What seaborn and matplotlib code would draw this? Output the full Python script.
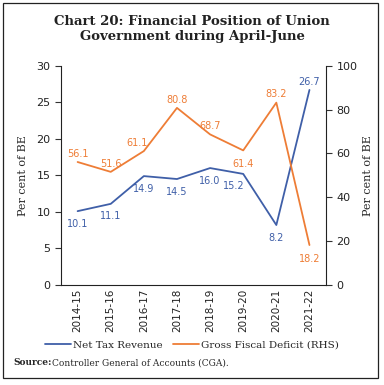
import numpy as np
import pandas as pd
import seaborn as sns
import matplotlib.pyplot as plt
from matplotlib.patches import Rectangle
from matplotlib.lines import Line2D

# data
years = ["2014-15", "2015-16", "2016-17", "2017-18", "2018-19", "2019-20", "2020-21", "2021-22"]
net_tax = [10.1, 11.1, 14.9, 14.5, 16.0, 15.2, 8.2, 26.7]
gfd = [56.1, 51.6, 61.1, 80.8, 68.7, 61.4, 83.2, 18.2]

df = pd.DataFrame({"year": years, "ntr": net_tax, "gfd": gfd})

blue = "#3F5FA8"
orange = "#EE7D36"

sns.set_style("white")
plt.rcParams["font.family"] = ["DejaVu Sans"]

fig = plt.figure(figsize=(3.84, 3.85), dpi=100)
ax = fig.add_axes([0.159, 0.260, 0.690, 0.569])
ax2 = ax.twinx()

sns.lineplot(data=df, x="year", y="ntr", ax=ax, color=blue, linewidth=1.3, sort=False)
sns.lineplot(data=df, x="year", y="gfd", ax=ax2, color=orange, linewidth=1.3, sort=False)

ax.set_xlim(-0.5, 7.5)
ax.set_ylim(0, 30)
ax.set_yticks(range(0, 31, 5))
ax2.set_ylim(0, 100)
ax2.set_yticks(range(0, 101, 20))

# tick marks between categories
ax.set_xticks(range(len(years)))
ax.set_xticklabels(years, rotation=90, fontsize=7.5, color="#222222")
ax.set_xticks(np.arange(-0.5, 8, 1), minor=True)
ax.tick_params(axis="x", which="major", length=0, pad=3)
ax.tick_params(axis="x", which="minor", length=4, width=0.8, color="#333333", direction="out")
ax.tick_params(axis="y", length=4, width=0.8, labelsize=8, color="#333333", labelcolor="#222222", direction="out", left=True)
ax2.tick_params(axis="y", length=4, width=0.8, labelsize=8, color="#333333", labelcolor="#222222", direction="out", right=True)

ax.set_xlabel("")
ax.set_ylabel("Per cent of BE", fontsize=8, family="DejaVu Serif", labelpad=6)
ax2.set_ylabel("Per cent of BE", fontsize=8, family="DejaVu Serif", labelpad=4)

for a in (ax, ax2):
    a.spines["top"].set_visible(False)
    for s in ("left", "right", "bottom"):
        a.spines[s].set_color("#222222")
        a.spines[s].set_linewidth(0.8)
ax.spines["right"].set_visible(False)
ax2.spines["left"].set_visible(False)
ax2.spines["bottom"].set_visible(False)

# data labels
ntr_off = [(0, -9), (0, -9), (0, -9), (0, -9), (0, -9), (-7, -9), (0, -9), (0, 6)]
gfd_off = [(0, 6), (0, 6), (-5, 6), (0, 6), (0, 6), (0, -10), (0, 6), (0, -10)]
for i, v in enumerate(net_tax):
    ax.annotate(f"{v:.1f}", (i, v), xytext=ntr_off[i], textcoords="offset points",
                ha="center", va="center", fontsize=7, color=blue)
for i, v in enumerate(gfd):
    ax2.annotate(f"{v:.1f}", (i, v), xytext=gfd_off[i], textcoords="offset points",
                 ha="center", va="center", fontsize=7, color=orange)

fig.text(0.5, 0.925, "Chart 20: Financial Position of Union\nGovernment during April-June",
         ha="center", va="center", fontsize=9.5, fontweight="bold", family="DejaVu Serif",
         linespacing=1.25, color="#222222")

handles = [Line2D([], [], color=blue, linewidth=1.3), Line2D([], [], color=orange, linewidth=1.3)]
fig.legend(handles, ["Net Tax Revenue", "Gross Fiscal Deficit (RHS)"], loc="center",
           bbox_to_anchor=(0.5, 0.103), ncol=2, frameon=False, handlelength=2.5,
           handletextpad=0.2, columnspacing=1.0, prop={"family": "DejaVu Serif", "size": 7.5})

fig.text(0.036, 0.058, "Source:", fontsize=6.5, fontweight="bold", family="DejaVu Serif", va="center")
fig.text(0.135, 0.058, "Controller General of Accounts (CGA).", fontsize=6.5, family="DejaVu Serif", va="center")

fig.patches.append(Rectangle((0.008, 0.018), 0.977, 0.975, transform=fig.transFigure,
                             fill=False, edgecolor="#222222", linewidth=0.9))

fig.savefig("out.png", dpi=100)
